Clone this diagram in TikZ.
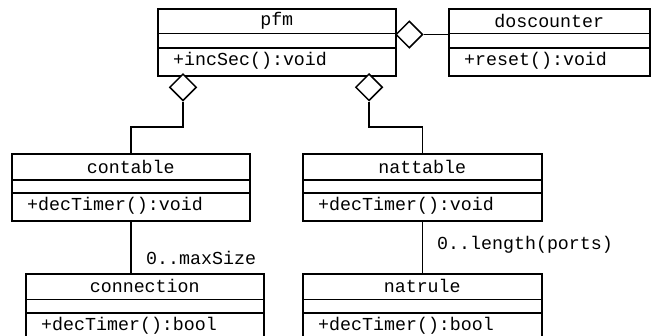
\documentclass[tikz,border=0pt]{standalone}
\usepackage{fontspec}
\setmonofont{Liberation Mono}
\usetikzlibrary{shapes.geometric}

% one UML class: name, x, y (top left), width, name-row height, method text
\newcommand\umlclass[6]{%
  \node[classbox, minimum width=#4, minimum height=67, anchor=north west] (#1) at (#2,#3) {};
  \draw[line] ([yshift=-#5pt]#1.north west) -- ([yshift=-#5pt]#1.north east);
  \draw[line] ([yshift=-40pt]#1.north west) -- ([yshift=-40pt]#1.north east);
  \node[umltext, anchor=center] (#1-title) at ([yshift=-#5pt/2]#1.north) {#1};
  \node[umltext, anchor=west] (#1-op) at ([xshift=16pt,yshift=-53pt]#1.north west) {#6};
}

\tikzset{
  x=1pt, y=-1pt,
  line/.style={line width=1.5pt, black},
  classbox/.style={draw, line width=1.5pt, fill=white, inner sep=0pt, rectangle},
  umltext/.style={font=\ttfamily\fontsize{18.3}{20}\selectfont, inner sep=0pt},
  aggr/.style={diamond, draw, line width=1.5pt, fill=white, inner sep=0pt,
               minimum width=27pt, minimum height=27pt},
  mult/.style={umltext, anchor=west},
}

\begin{document}
\begin{tikzpicture}
\useasboundingbox (0,0) rectangle (651,335);

\umlclass{pfm}{157}{8}{238}{25.5}{+incSec():void}
\umlclass{doscounter}{448}{8}{201}{25.5}{+reset():void}
\umlclass{contable}{11}{153}{238}{27}{+decTimer():void}
\umlclass{nattable}{302}{153}{239}{27}{+decTimer():void}
\umlclass{connection}{25}{273}{238}{26.5}{+decTimer():bool}
\umlclass{natrule}{302}{273}{239}{26.5}{+decTimer():bool}

% aggregation diamonds on pfm
\node[aggr, anchor=north] (aggL) at (183,73) {};
\node[aggr, anchor=north] (aggR) at (369,73) {};
\node[aggr, anchor=west]  (aggD) at (395,34.5) {};

% connectors
\draw[line] (aggD.east) -- (aggD.east -| doscounter.west);
\draw[line] (aggL.south) -- (aggL.south |- 0,127) -| (contable.north);
\draw[line] (aggR.south) -- (aggR.south |- 0,127) -| (nattable.north);
\draw[line] (contable.south) -- (contable.south |- connection.north);
\draw[line] (nattable.south) -- (nattable.south |- natrule.north);

% multiplicities
\node[mult] (multCon) at (146,258) {0..maxSize};
\node[mult] (multNat) at (437,245) {0..length(ports)};
\end{tikzpicture}
\end{document}
